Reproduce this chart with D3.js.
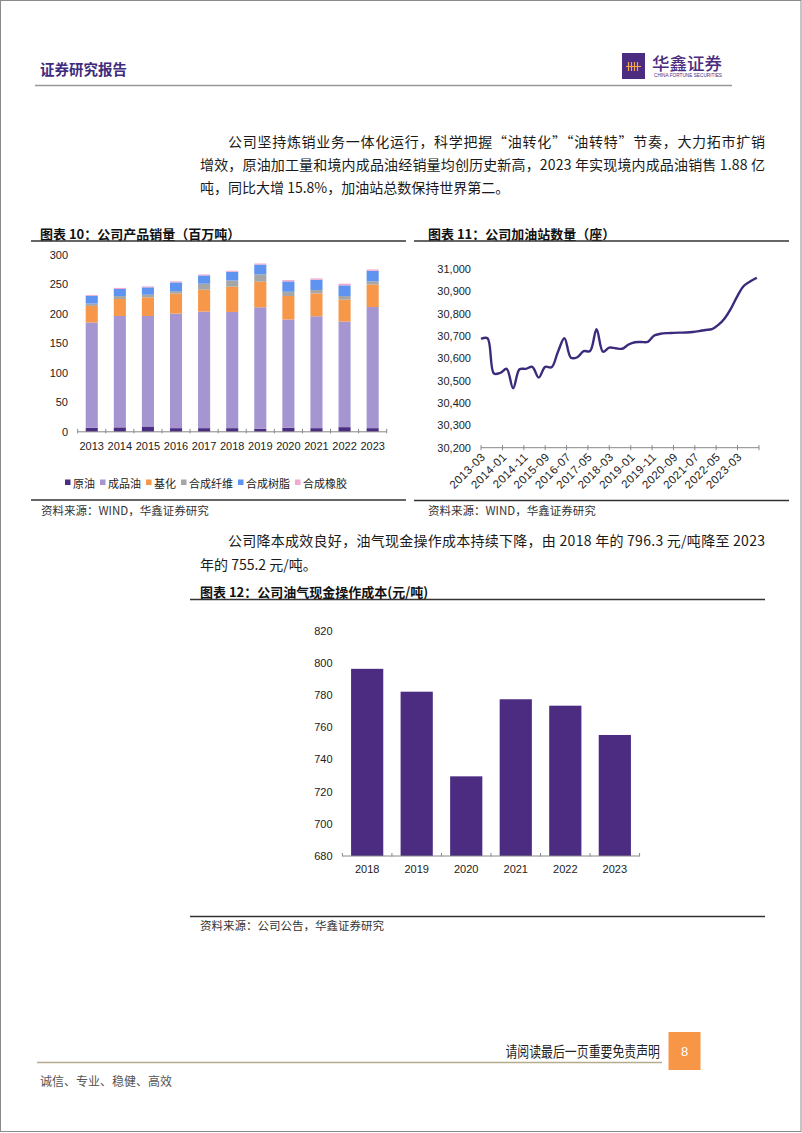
<!DOCTYPE html>
<html><head><meta charset="utf-8">
<script src="https://cdn.jsdelivr.net/npm/d3@7"></script>
<style>
body{margin:0;background:#fff}
svg{display:block}
text{font-family:"Noto Sans CJK SC","Liberation Sans",sans-serif}
.num{font-family:"Liberation Sans",Arial,sans-serif}
</style>
</head><body>
<svg id="page" width="802" height="1133"></svg>
<script>
// ---------- DATA ----------
// Chart 10: product sales (million tonnes)
const years10   = ["2013","2014","2015","2016","2017","2018","2019","2020","2021","2022","2023"];
const crudeOil  = [7.0, 7.5, 9.0, 6.2, 6.2, 6.2, 5.0, 6.7, 6.2, 7.9, 6.2];
const refined   = [178, 188.5, 187, 193.8, 197.2, 196.6, 205.7, 183.3, 189.3, 178.6, 205];
const basicChem = [28, 28.7, 31.5, 33.7, 37, 42.7, 43.3, 39.8, 38.8, 37.1, 38.2];
const synFiber  = [4.0, 5.0, 4.5, 4.3, 10.2, 10.5, 12.3, 7.2, 5.7, 6.2, 5.1];
const synResin  = [13, 12, 12.4, 14.8, 14, 14.8, 16.7, 17.5, 17.3, 18, 18];
const synRubber = [1.5, 1.8, 1.6, 1.7, 1.7, 1.7, 1.8, 2.2, 2.3, 2.8, 2.2];
const seriesNames10 = ["原油","成品油","基化","合成纤维","合成树脂","合成橡胶"];
const yTicks10 = [0,50,100,150,200,250,300];

// Chart 11: number of gas stations (quarterly)
const stationDates = ["2013-03","2013-06","2013-09","2013-12","2014-03","2014-06","2014-09","2014-12",
  "2015-03","2015-06","2015-09","2015-12","2016-03","2016-06","2016-09","2016-12",
  "2017-03","2017-06","2017-09","2017-12","2018-03","2018-06","2018-09","2018-12",
  "2019-03","2019-06","2019-09","2019-12","2020-03","2020-06","2020-09","2020-12",
  "2021-03","2021-06","2021-09","2021-12","2022-03","2022-06","2022-09","2022-12",
  "2023-03","2023-06","2023-09","2023-12"];
const stationCounts = [30687,30690,30532,30535,30553,30466,30551,30553,
  30562,30514,30562,30560,30630,30690,30603,30605,
  30632,30633,30730,30630,30648,30645,30643,30662,
  30672,30673,30674,30702,30710,30713,30714,30715,
  30716,30718,30722,30727,30731,30750,30780,30825,
  30880,30925,30945,30961];
const yTicks11 = [30200,30300,30400,30500,30600,30700,30800,30900,31000];
const xTickLabels11 = ["2013-03","2014-01","2014-11","2015-09","2016-07","2017-05","2018-03",
  "2019-01","2019-11","2020-09","2021-07","2022-05","2023-03"];

// Chart 12: oil & gas cash operating cost (yuan/tonne)
const years12 = ["2018","2019","2020","2021","2022","2023"];
const cost12  = [796.3, 782.1, 729.5, 777.4, 773.4, 755.2];
const yTicks12 = [680,700,720,740,760,780,800,820];

// ---------- DRAWING ----------
const svg = d3.select("#page");
const PURPLE = "#4b2c80";

// page border
svg.append("rect").attr("x",0.5).attr("y",0.5).attr("width",800.5).attr("height",1131)
  .attr("fill","none").attr("stroke","#8a8a8a").attr("stroke-width",1);

// header
svg.append("text").attr("x",40).attr("y",68).attr("dominant-baseline","central")
  .attr("font-size",14.5).attr("font-weight",700).attr("fill","#3f2b7d").text("证券研究报告");
svg.append("line").attr("x1",35).attr("x2",732).attr("y1",85.5).attr("y2",85.5)
  .attr("stroke","#999").attr("stroke-width",1.5);
svg.append("rect").attr("x",622).attr("y",53).attr("width",23).attr("height",26).attr("fill",PURPLE);
svg.append("path").attr("d","M626,66.5H641M628.5,62V71M631.5,62V71M634.5,62V71M637.5,62V71")
  .attr("stroke","#f7a64a").attr("stroke-width",1.2).attr("fill","none");
svg.append("text").attr("x",652).attr("y",62).attr("dominant-baseline","central")
  .attr("font-size",17.5).attr("font-weight",500).attr("fill",PURPLE).text("华鑫证券");
svg.append("text").attr("x",654).attr("y",75.5).attr("dominant-baseline","central")
  .attr("font-size",4.5).attr("fill",PURPLE).attr("textLength",68).attr("lengthAdjust","spacingAndGlyphs")
  .attr("class","num").text("CHINA FORTUNE SECURITIES");

// body text
function bodyLine(x, y, str, width){
  const t = svg.append("text").attr("x",x).attr("y",y).attr("dominant-baseline","central")
    .attr("font-size",14).attr("fill","#1a1a1a").text(str);
  if (width) t.attr("textLength",width).attr("lengthAdjust","spacing");
  return t;
}
bodyLine(228,141,"公司坚持炼销业务一体化运行，科学把握“油转化”“油转特”节奏，大力拓市扩销",537);
bodyLine(200,164,"增效，原油加工量和境内成品油经销量均创历史新高，2023 年实现境内成品油销售 1.88 亿",565);
bodyLine(200,187,"吨，同比大增 15.8%，加油站总数保持世界第二。");
bodyLine(228,540,"公司降本成效良好，油气现金操作成本持续下降，由 2018 年的 796.3 元/吨降至 2023",537);
bodyLine(200,564,"年的 755.2 元/吨。");

// chart titles & rules
function title(x,y,str){
  svg.append("text").attr("x",x).attr("y",y).attr("dominant-baseline","central")
    .attr("font-size",13).attr("font-weight",700).attr("fill","#111").text(str);
}
function rule(x1,x2,y,w){
  svg.append("line").attr("x1",x1).attr("x2",x2).attr("y1",y).attr("y2",y)
    .attr("stroke","#333").attr("stroke-width",w||1.5);
}
function source(x,y,str){
  svg.append("text").attr("x",x).attr("y",y).attr("dominant-baseline","central")
    .attr("font-size",11.5).attr("fill","#333").text(str);
}
title(40,233,"图表 10：公司产品销量（百万吨）");
rule(31,406,241);
title(428,233,"图表 11：公司加油站数量（座）");
rule(414,789,241);
rule(31,406,500); rule(414,789,500.5);
source(41,510,"资料来源：WIND，华鑫证券研究");
source(428,510,"资料来源：WIND，华鑫证券研究");
title(200,591,"图表 12：公司油气现金操作成本(元/吨)");
rule(190,765,599.5);
rule(190,765,916.5);
source(200,925,"资料来源：公司公告，华鑫证券研究");

// ---------- Chart 10: stacked bars ----------
const colors10 = ["#4b2e83","#a596d2","#f6974a","#a6a6a6","#5e93ef","#f3a8cf"];
const table10 = years10.map((y,i)=>({year:y, "原油":crudeOil[i], "成品油":refined[i], "基化":basicChem[i],
  "合成纤维":synFiber[i], "合成树脂":synResin[i], "合成橡胶":synRubber[i]}));
const stack10 = d3.stack().keys(seriesNames10)(table10);
const x10 = d3.scaleBand().domain(years10).range([77.7,386.7]).paddingInner(0).paddingOuter(0);
const y10 = d3.scaleLinear().domain([0,300]).range([431.8,254.5]);
const g10 = svg.append("g");
const barW10 = x10.bandwidth()*0.43;
stack10.forEach((s,k)=>{
  g10.append("g").attr("fill",colors10[k]).selectAll("rect").data(s).join("rect")
    .attr("x",d=>x10(d.data.year)+(x10.bandwidth()-barW10)/2)
    .attr("width",barW10)
    .attr("y",d=>y10(d[1]))
    .attr("height",d=>y10(d[0])-y10(d[1]));
});
// y labels
g10.selectAll(".yl").data(yTicks10).join("text").attr("class","num")
  .attr("x",68).attr("y",d=>y10(d)).attr("text-anchor","end").attr("dominant-baseline","central")
  .attr("font-size",11).attr("fill","#222").text(d=>d);
// x axis
g10.append("line").attr("x1",x10.range()[0]).attr("x2",x10.range()[1]).attr("y1",y10(0)).attr("y2",y10(0))
  .attr("stroke","#888").attr("stroke-width",1);
const bounds10 = years10.map(y=>x10(y)).concat([x10.range()[1]]);
g10.selectAll(".xt").data(bounds10).join("line")
  .attr("x1",d=>d).attr("x2",d=>d).attr("y1",y10(0)-3).attr("y2",y10(0)+1.5)
  .attr("stroke","#888").attr("stroke-width",1);
g10.selectAll(".xl").data(years10).join("text").attr("class","num")
  .attr("x",d=>x10(d)+x10.bandwidth()/2).attr("y",446).attr("text-anchor","middle").attr("dominant-baseline","central")
  .attr("font-size",11).attr("fill","#222").text(d=>d);
// legend
let lx = 65;
seriesNames10.forEach((n,k)=>{
  g10.append("rect").attr("x",lx).attr("y",479.5).attr("width",5.5).attr("height",5.5).attr("fill",colors10[k]);
  const t = g10.append("text").attr("x",lx+8).attr("y",482.5).attr("dominant-baseline","central")
    .attr("font-size",11).attr("fill","#222").text(n);
  lx += 8 + t.node().getComputedTextLength() + 5;
});

// ---------- Chart 11: line ----------
const parseM = d3.timeParse("%Y-%m");
const x11 = d3.scaleTime().domain([parseM("2013-03"), parseM("2024-01")]).range([481,759]);
const y11 = d3.scaleLinear().domain([30200,31000]).range([447.7,269]);
const g11 = svg.append("g");
g11.selectAll(".yl").data(yTicks11).join("text").attr("class","num")
  .attr("x",471).attr("y",d=>y11(d)).attr("text-anchor","end").attr("dominant-baseline","central")
  .attr("font-size",11).attr("fill","#222").text(d=>d3.format(",")(d));
g11.append("line").attr("x1",481).attr("x2",759).attr("y1",y11(30200)).attr("y2",y11(30200))
  .attr("stroke","#888").attr("stroke-width",1);
const tickDates11 = d3.range(14).map(i=>d3.timeMonth.offset(parseM("2013-03"), i*10));
g11.selectAll(".xt").data(tickDates11).join("line")
  .attr("x1",d=>x11(d)).attr("x2",d=>x11(d)).attr("y1",y11(30200)-2.5).attr("y2",y11(30200)+2.5)
  .attr("stroke","#888").attr("stroke-width",1);
g11.selectAll(".xl").data(xTickLabels11).join("text").attr("class","num")
  .attr("text-anchor","end").attr("font-size",11.5).attr("letter-spacing",0.4).attr("fill","#222")
  .attr("transform",d=>`translate(${x11(parseM(d))+5},${y11(30200)+10}) rotate(-45)`)
  .text(d=>d);
const pts11 = stationDates.map((d,i)=>[parseM(d), stationCounts[i]]);
g11.append("path").datum(pts11)
  .attr("d", d3.line().x(d=>x11(d[0])).y(d=>y11(d[1])).curve(d3.curveCatmullRom.alpha(0.5)))
  .attr("fill","none").attr("stroke","#3c2a7c").attr("stroke-width",2.4).attr("stroke-linejoin","round");

// ---------- Chart 12: bars ----------
const x12 = d3.scaleBand().domain(years12).range([342.4,639.6]).paddingInner(0).paddingOuter(0);
const y12 = d3.scaleLinear().domain([680,820]).range([856,630.7]);
const g12 = svg.append("g");
const barW12 = x12.bandwidth()*0.65;
g12.selectAll("rect").data(cost12).join("rect")
  .attr("x",(d,i)=>x12(years12[i])+(x12.bandwidth()-barW12)/2).attr("width",barW12)
  .attr("y",d=>y12(d)).attr("height",d=>y12(680)-y12(d)).attr("fill",PURPLE);
g12.selectAll(".yl").data(yTicks12).join("text").attr("class","num")
  .attr("x",332.5).attr("y",d=>y12(d)).attr("text-anchor","end").attr("dominant-baseline","central")
  .attr("font-size",11).attr("fill","#222").text(d=>d);
g12.append("line").attr("x1",342.4).attr("x2",639.6).attr("y1",y12(680)).attr("y2",y12(680))
  .attr("stroke","#888").attr("stroke-width",1);
const bounds12 = years12.map(y=>x12(y)).concat([x12.range()[1]]);
g12.selectAll(".xt").data(bounds12).join("line")
  .attr("x1",d=>d).attr("x2",d=>d).attr("y1",y12(680)-3).attr("y2",y12(680)+0.5)
  .attr("stroke","#888").attr("stroke-width",1);
g12.selectAll(".xl").data(years12).join("text").attr("class","num")
  .attr("x",d=>x12(d)+x12.bandwidth()/2).attr("y",869).attr("text-anchor","middle").attr("dominant-baseline","central")
  .attr("font-size",11).attr("fill","#222").text(d=>d);

// ---------- footer ----------
svg.append("g").attr("transform","translate(660,1051) scale(1,1.22)")
  .append("text").attr("x",0).attr("y",0).attr("text-anchor","end").attr("dominant-baseline","central")
  .attr("font-size",11.9).attr("fill","#222").text("请阅读最后一页重要免责声明");
svg.append("rect").attr("x",668.5).attr("y",1032).attr("width",32).attr("height",38).attr("fill","#f79646");
svg.append("text").attr("x",684.5).attr("y",1051).attr("text-anchor","middle").attr("dominant-baseline","central")
  .attr("font-size",13).attr("fill","#fff").attr("class","num").text("8");
svg.append("line").attr("x1",37).attr("x2",662).attr("y1",1062.5).attr("y2",1062.5)
  .attr("stroke","#b5ad8a").attr("stroke-width",1.5);
svg.append("text").attr("x",40).attr("y",1080).attr("dominant-baseline","central")
  .attr("font-size",12).attr("fill","#555").text("诚信、专业、稳健、高效");
</script>
</body></html>
